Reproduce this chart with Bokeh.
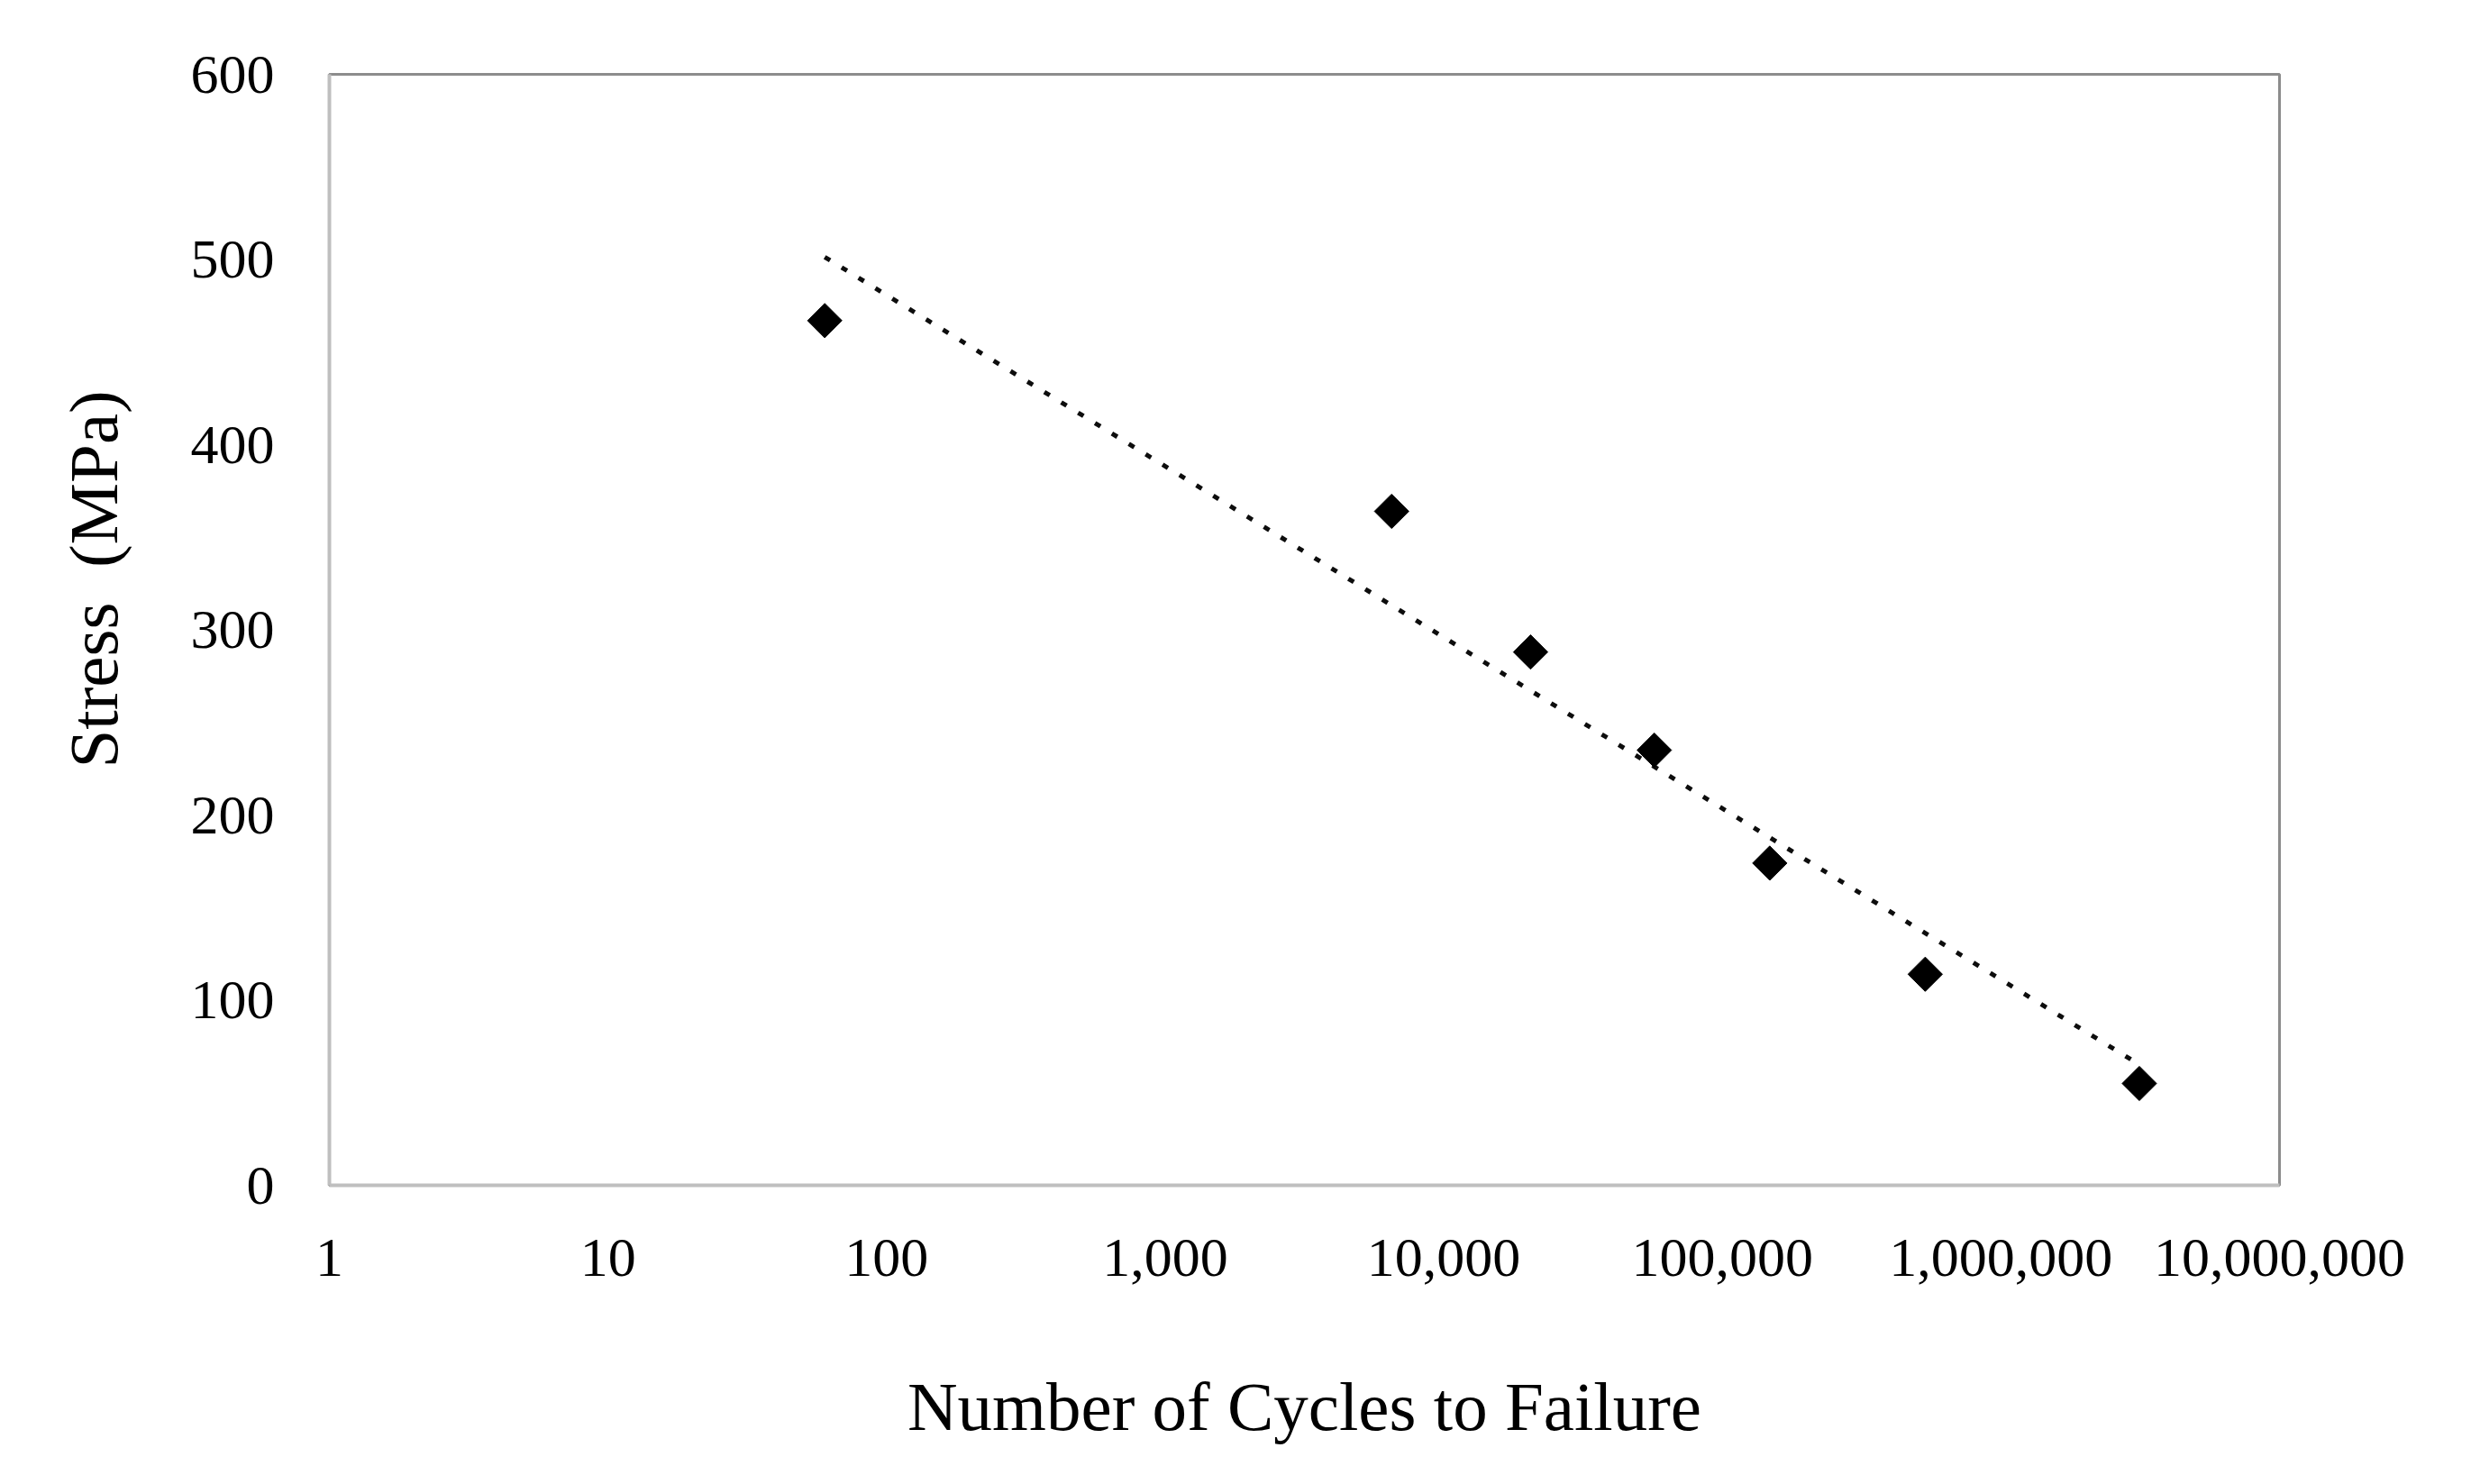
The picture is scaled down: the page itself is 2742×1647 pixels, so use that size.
import numpy as np
from bokeh.plotting import figure
from bokeh.models import FixedTicker, NumeralTickFormatter, Range1d, Title
from bokeh.embed import file_html
from bokeh.resources import INLINE

# Data
cycles = [60, 6500, 20500, 57000, 148000, 535000, 3140000]
stress = [467, 364, 288, 235, 174, 114, 55]
x_ticks = [1, 10, 100, 1000, 10000, 100000, 1000000, 10000000]
y_ticks = [0, 100, 200, 300, 400, 500, 600]

FONT = "Liberation Serif"

p = figure(width=2726, height=1631, x_axis_type="log",
           x_range=Range1d(1, 1e7), y_range=Range1d(0, 600),
           output_backend="svg", toolbar_location=None,
           min_border_left=362, min_border_right=197,
           min_border_top=82, min_border_bottom=316)

# logarithmic trendline (least-squares fit of stress vs log10 cycles)
coef = np.polyfit(np.log10(cycles), stress, 1)
tx = [cycles[0], cycles[-1]]
ty = list(np.polyval(coef, np.log10(tx)))
p.line(tx, ty, line_color="#0d0d0d", line_width=5, line_dash="7 15")

p.scatter(cycles, stress, marker="square", size=27, angle=np.pi / 4,
          fill_color="black", line_color="black")

p.grid.visible = False
p.outline_line_color = "#8c8c8c"
p.outline_line_width = 3

for ax in (p.xaxis[0], p.yaxis[0]):
    ax.axis_line_color = "#bfbfbf"
    ax.axis_line_width = 4
    ax.major_tick_line_color = None
    ax.minor_tick_line_color = None
    ax.major_tick_out = 0
    ax.minor_tick_out = 0
    ax.major_label_text_font = FONT
    ax.major_label_text_font_size = "62px"
    ax.major_label_text_color = "black"
    ax.axis_label_text_font = FONT
    ax.axis_label_text_font_size = "77px"
    ax.axis_label_text_font_style = "normal"
    ax.axis_label_text_color = "black"

p.xaxis.ticker = FixedTicker(ticks=x_ticks)
p.xaxis.formatter = NumeralTickFormatter(format="0,0")
p.xaxis.major_label_standoff = 60
p.xaxis.axis_label = "Number of Cycles to Failure"
p.xaxis.axis_label_standoff = 99

p.yaxis.ticker = FixedTicker(ticks=y_ticks)
p.yaxis.major_label_standoff = 61

# Y-axis title, placed off-centre as in the reference
ytitle = Title(text="Stress\u00a0\u00a0(MPa)", align="left", offset=463,
               vertical_align="top", standoff=120,
               text_font=FONT, text_font_size="77px",
               text_font_style="normal", text_color="black")
p.add_layout(ytitle, "left")

open("out.html", "w").write(file_html(p, INLINE))
